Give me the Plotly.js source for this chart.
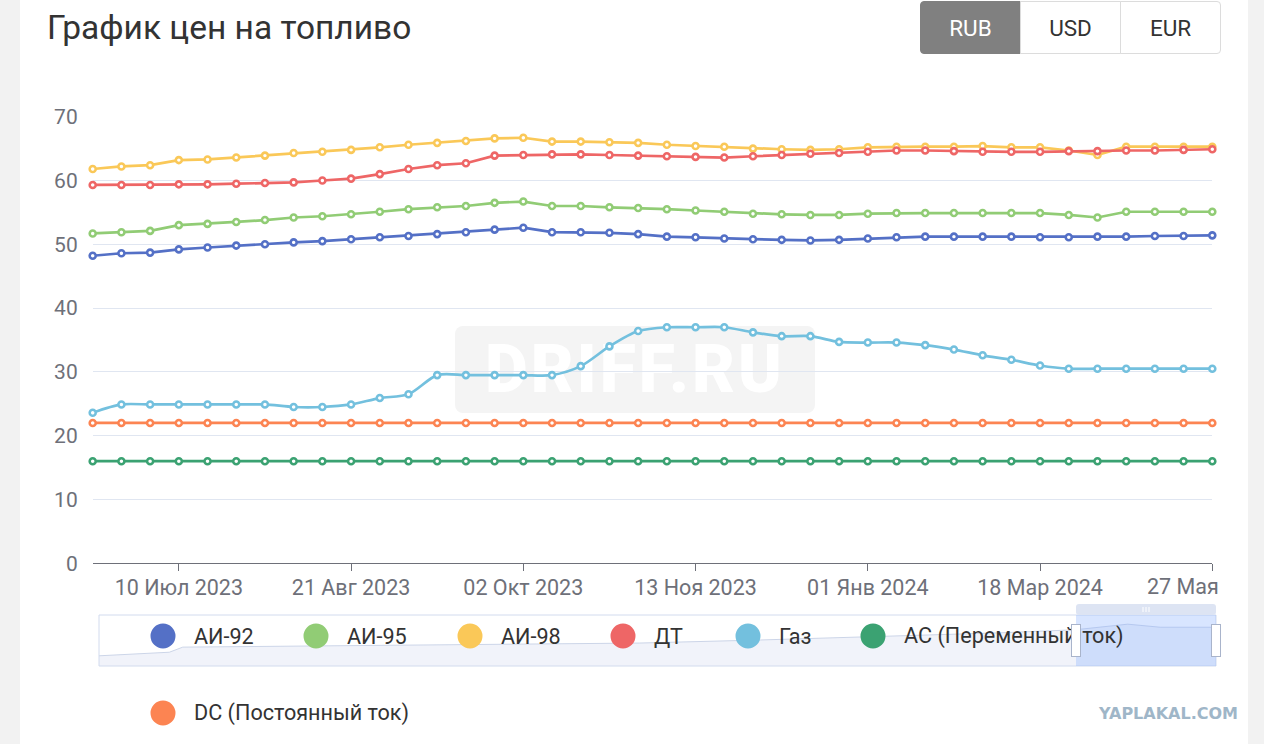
<!DOCTYPE html>
<html>
<head>
<meta charset="utf-8">
<script src="https://cdn.plot.ly/plotly-3.0.1.min.js"></script>
<style>
html,body{margin:0;padding:0;width:1264px;height:744px;overflow:hidden;background:#f2f2f2;font-family:Roboto,"Noto Sans",sans-serif}
#card{position:absolute;left:20px;top:0;width:1228px;height:744px;background:#ffffff}
#wm{position:absolute;left:455px;top:326px;width:360px;height:87px;background:#f4f4f4;border-radius:8px;
  display:flex;align-items:center;justify-content:center;font-family:Roboto,sans-serif;font-weight:900;font-size:66px;color:#ffffff;letter-spacing:3px}
#chart{position:absolute;left:0;top:0;width:1222px;height:744px}
#btns{position:absolute;left:920px;top:1px;display:flex}
#btns div{box-sizing:border-box;width:101px;height:53px;border:1px solid #dcdcdc;display:flex;align-items:center;justify-content:center;
  font-family:Roboto,sans-serif;font-size:22.5px;color:#333;background:#fff;margin-left:-1px}
#btns div.on{background:#808080;border-color:#808080;color:#fff;border-radius:4px 0 0 4px;margin-left:0}
#btns div.last{border-radius:0 4px 4px 0}
#yap{position:absolute;right:26px;top:704px;font-family:"DejaVu Sans",sans-serif;font-weight:bold;font-size:16px;color:#9fb6c8;letter-spacing:0px}
</style>
</head>
<body>
<div id="card"></div>
<div id="wm">DRIFF.RU</div>
<div id="chart"></div>
<div id="btns"><div class="on">RUB</div><div>USD</div><div class="last">EUR</div></div>
<div id="yap">YAPLAKAL.COM</div>
<script>
// ---- data ----
const dates = ["19 Июн 2023","26 Июн 2023","03 Июл 2023","10 Июл 2023","17 Июл 2023","24 Июл 2023","31 Июл 2023",
  "07 Авг 2023","14 Авг 2023","21 Авг 2023","28 Авг 2023","04 Сен 2023","11 Сен 2023","18 Сен 2023","25 Сен 2023",
  "02 Окт 2023","09 Окт 2023","16 Окт 2023","23 Окт 2023","30 Окт 2023","06 Ноя 2023","13 Ноя 2023","20 Ноя 2023",
  "27 Ноя 2023","04 Дек 2023","11 Дек 2023","18 Дек 2023","01 Янв 2024","15 Янв 2024","29 Янв 2024","12 Фев 2024",
  "26 Фев 2024","04 Мар 2024","18 Мар 2024","01 Апр 2024","15 Апр 2024","29 Апр 2024","06 Мая 2024","20 Мая 2024","27 Мая 2024"];
const tickDates = ["10 Июл 2023","21 Авг 2023","02 Окт 2023","13 Ноя 2023","01 Янв 2024","18 Мар 2024","27 Мая 2024"];
const tickLabels = ["10 Июл 2023","21 Авг 2023","02 Окт 2023","13 Ноя 2023","01 Янв 2024","18 Мар 2024","27 Мая"];
const yTicks = [0,10,20,30,40,50,60,70];

const ai92 = [48.2,48.6,48.7,49.2,49.5,49.8,50.0,50.3,50.5,50.8,51.1,51.3,51.6,51.9,
  52.3,52.6,51.9,51.9,51.8,51.6,51.2,51.1,50.9,50.8,50.7,50.6,50.7,
  50.9,51.1,51.2,51.2,51.2,51.2,51.1,51.1,51.2,51.2,51.3,51.3,51.4];
const ai95 = [51.7,51.9,52.1,53.0,53.2,53.5,53.8,54.2,54.4,54.7,55.1,55.5,55.8,56.0,
  56.5,56.7,56.0,56.0,55.8,55.7,55.5,55.3,55.1,54.8,54.7,54.6,54.6,
  54.8,54.9,54.9,54.9,54.9,54.9,54.9,54.6,54.2,55.1,55.1,55.1,55.1];
const ai98 = [61.8,62.2,62.4,63.2,63.3,63.6,63.9,64.3,64.5,64.8,65.2,65.6,65.9,66.2,
  66.6,66.7,66.1,66.1,66.0,65.9,65.6,65.4,65.3,65.0,64.9,64.8,64.9,
  65.2,65.3,65.3,65.3,65.4,65.2,65.2,64.7,64.0,65.3,65.3,65.3,65.3];
const dt = [59.3,59.3,59.3,59.4,59.4,59.5,59.6,59.7,60.0,60.3,61.0,61.8,62.4,62.7,
  63.9,64.0,64.1,64.1,64.0,63.9,63.8,63.7,63.6,63.8,64.0,64.2,64.3,
  64.5,64.7,64.7,64.6,64.5,64.5,64.5,64.6,64.6,64.7,64.7,64.8,64.9];
const gas = [23.6,24.9,24.9,24.9,24.9,24.9,24.9,24.5,24.5,24.9,25.9,26.5,29.5,29.5,
  29.5,29.5,29.5,30.9,34.0,36.4,37.0,37.0,37.0,36.2,35.6,35.6,34.7,
  34.6,34.6,34.2,33.5,32.6,31.9,31.0,30.5,30.5,30.5,30.5,30.5,30.5];
const ac = [16,16,16,16,16,16,16,16,16,16,16,16,16,16,16,16,16,16,16,16,
  16,16,16,16,16,16,16,16,16,16,16,16,16,16,16,16,16,16,16,16];
const dc = [22,22,22,22,22,22,22,22,22,22,22,22,22,22,22,22,22,22,22,22,
  22,22,22,22,22,22,22,22,22,22,22,22,22,22,22,22,22,22,22,22];

const seriesNames = ["АИ-92","АИ-95","АИ-98","ДТ","Газ","АС (Переменный ток)","DC (Постоянный ток)"];
const seriesColors = ["#5470c6","#91cc75","#fac858","#ee6666","#73c0de","#3ba272","#fc8452"];
const seriesValues = [ai92, ai95, ai98, dt, gas, ac, dc];

// slider overview shadow (position along slider in %, relative height 0..1)
const shadowPos = [0, 6.3, 7.5, 18, 31.4, 48.4, 59.2, 71.7, 80.6, 87.4, 89.6, 92.1, 95, 100];
const shadowVal = [0.20, 0.27, 0.37, 0.39, 0.41, 0.45, 0.51, 0.59, 0.65, 0.71, 0.76, 0.82, 0.76, 0.76];

// ---- layout helpers (pixel -> paper; margins are zero so paper = whole figure) ----
const W = 1222, H = 744;
const px = x => x / W;
const py = y => 1 - y / H;
function rrect(x0, y0, x1, y1, r) {
  const rx = r / W, ry = r / H;
  const a = px(x0), b = px(x1), t = py(y0), u = py(y1);
  return `M${a+rx},${t} L${b-rx},${t} Q${b},${t} ${b},${t-ry} L${b},${u+ry} Q${b},${u} ${b-rx},${u} ` +
         `L${a+rx},${u} Q${a},${u} ${a},${u+ry} L${a},${t-ry} Q${a},${t} ${a+rx},${t} Z`;
}

const traces = [];
traces.push({
  x: shadowPos, y: shadowVal, xaxis: 'x2', yaxis: 'y2', type: 'scatter', mode: 'lines',
  fill: 'tozeroy', fillcolor: 'rgba(215,222,240,0.35)', line: {color: '#ccd5e8', width: 1},
  hoverinfo: 'skip', showlegend: false
});
seriesValues.forEach((vals, i) => {
  traces.push({
    x: dates, y: vals, type: 'scatter', mode: 'lines+markers', name: seriesNames[i],
    line: {color: seriesColors[i], width: 2.7, shape: i === 4 ? 'spline' : 'linear', smoothing: 0.8},
    marker: {symbol: 'circle', size: 6, color: '#ffffff', line: {color: seriesColors[i], width: 2.6}},
    cliponaxis: false, showlegend: false
  });
});

// legend (custom, ECharts style)
const legendPos = [[163,636],[316,636],[470,636],[623,636],[748,636],[873,636],[163,713]];
const shapes = [
  {type:'rect', xref:'paper', yref:'paper', x0:px(99), x1:px(1216), y0:py(666), y1:py(615),
   line:{color:'#d2dbee', width:1}, fillcolor:'rgba(0,0,0,0)', layer:'above'},
  {type:'rect', xref:'paper', yref:'paper', x0:px(1076), x1:px(1216), y0:py(666), y1:py(615),
   line:{width:0}, fillcolor:'rgba(135,175,255,0.32)', layer:'above'},
  {type:'path', xref:'paper', yref:'paper', path: rrect(1076,604,1216,615,3),
   line:{width:0}, fillcolor:'#dde4f3', layer:'above'},
  {type:'line', xref:'paper', yref:'paper', x0:px(1143), x1:px(1143), y0:py(607), y1:py(612), line:{color:'#ffffff', width:1}},
  {type:'line', xref:'paper', yref:'paper', x0:px(1146), x1:px(1146), y0:py(607), y1:py(612), line:{color:'#ffffff', width:1}},
  {type:'line', xref:'paper', yref:'paper', x0:px(1149), x1:px(1149), y0:py(607), y1:py(612), line:{color:'#ffffff', width:1}}
];
const annotations = [];
seriesNames.forEach((n, i) => {
  const [cx, cy] = legendPos[i];
  shapes.push({type:'circle', xref:'paper', yref:'paper', x0:px(cx-12.5), x1:px(cx+12.5), y0:py(cy+12.5), y1:py(cy-12.5),
    fillcolor: seriesColors[i], line:{width:0}, layer:'above'});
  annotations.push({text: n, xref:'paper', yref:'paper', x: px(cx+29), y: py(cy), xanchor:'left', yanchor:'middle',
    showarrow:false, font:{family:'Roboto', size:21.6, color:'#333333'}});
});
// slider handles (drawn as boxed annotations so they sit above the legend text, as in the reference)
[1076, 1216].forEach(hx => {
  annotations.push({text:' ', xref:'paper', yref:'paper', x:px(hx), y:py(640.5), xanchor:'center', yanchor:'middle',
    showarrow:false, width:8, height:31, borderpad:0, bgcolor:'#ffffff', bordercolor:'#a9b4cb', borderwidth:1,
    font:{size:10}});
});

// last category label is drawn right-aligned to stay inside the chart (as in the reference)
const lastIdx = tickLabels.length - 1;
const shownTickText = tickLabels.map((t, i) => i === lastIdx ? '' : t);
annotations.push({text: tickLabels[lastIdx], xref:'paper', yref:'paper', x: px(1221), y: py(586), xanchor:'right', yanchor:'middle',
  showarrow:false, font:{family:'Roboto', size:21.5, color:'#6e7079'}});

const layout = {
  width: W, height: H, autosize: false,
  margin: {l:0, r:0, t:0, b:0, pad:0},
  paper_bgcolor: 'rgba(0,0,0,0)', plot_bgcolor: 'rgba(0,0,0,0)',
  font: {family: 'Roboto, sans-serif', color: '#6e7079'},
  title: {text: 'График цен на топливо', x: px(47), xref: 'container', xanchor: 'left',
          y: 1 - 27/H, yref: 'container', yanchor: 'middle', pad: {l:0, r:0, t:0, b:0},
          font: {family: 'Roboto', size: 33.5, color: '#333333'}},
  xaxis: {type: 'category', categoryorder: 'array', categoryarray: dates, range: [0, dates.length - 1],
          domain: [px(92.7), px(1212.3)], tickmode: 'array', tickvals: tickDates, ticktext: shownTickText,
          ticks: 'outside', ticklen: 7, tickwidth: 1, tickcolor: '#6e7079', ticklabelstandoff: -2,
          showline: true, linecolor: '#6e7079', linewidth: 1, showgrid: false, zeroline: false,
          tickfont: {family: 'Roboto', size: 21.5, color: '#6e7079'}, fixedrange: true},
  yaxis: {range: [0, 70], domain: [(H-563.3)/H, (H-116.7)/H], tickmode: 'array', tickvals: yTicks,
          showgrid: true, gridcolor: '#e0e6f1', gridwidth: 1, zeroline: false, showline: false, ticks: '',
          ticklabelstandoff: 14, tickfont: {family: 'Roboto', size: 21, color: '#6e7079'}, fixedrange: true},
  xaxis2: {domain: [px(99), px(1216)], range: [0, 100], anchor: 'y2', visible: false, fixedrange: true},
  yaxis2: {domain: [(H-666)/H, (H-615)/H], range: [0, 1], anchor: 'x2', visible: false, fixedrange: true},
  shapes: shapes, annotations: annotations, showlegend: false, hovermode: false
};

Plotly.newPlot('chart', traces, layout, {displayModeBar: false, staticPlot: true});
</script>
</body>
</html>
